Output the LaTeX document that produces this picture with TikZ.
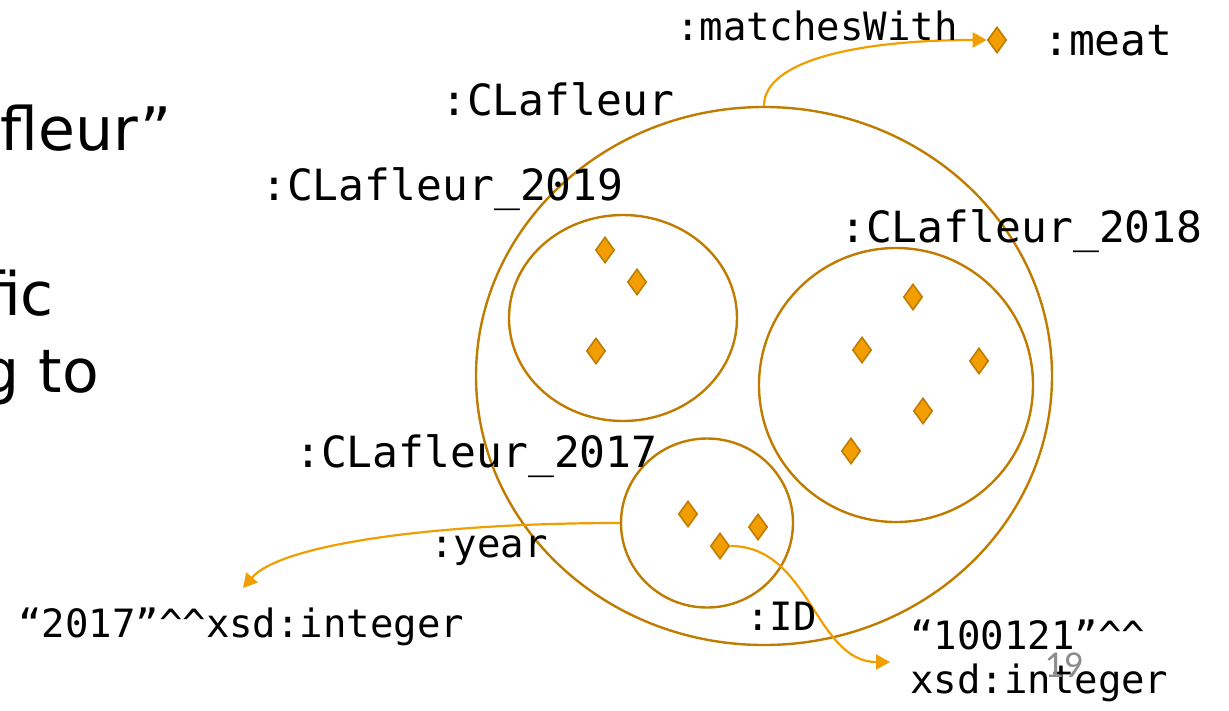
\documentclass[tikz,border=0pt]{standalone}
\usepackage{fontspec}
\setmainfont{DejaVu Sans}
\newfontfamily\codefont{DejaVu Sans Mono}
\newfontfamily\numfont{Carlito}
\usetikzlibrary{arrows.meta, shapes.geometric}
\definecolor{rdfRing}{RGB}{191,124,0}
\definecolor{rdfFill}{RGB}{242,157,0}
\definecolor{rdfEdge}{RGB}{240,158,0}
\definecolor{pageNum}{RGB}{140,140,140}

\begin{document}
\begin{tikzpicture}[x=1pt, y=-1pt,
    ring/.style={ellipse, draw=rdfRing, line width=2.4pt, inner sep=0pt},
    res/.style={diamond, draw=rdfRing, fill=rdfFill, line width=1.6pt,
      minimum width=19pt, minimum height=26pt, inner sep=0pt},
    lbl/.style={anchor=base west, inner sep=0pt, font=\codefont\fontsize{43}{48}\selectfont},
    lit/.style={lbl, font=\codefont\fontsize{39}{46}\selectfont},
    rel/.style={draw=rdfEdge, line width=2.2pt, -{Triangle[length=14pt,width=15pt]}},
    body/.style={anchor=base east, inner sep=0pt, font=\fontsize{60}{70}\selectfont}
  ]
    \useasboundingbox (0,0) rectangle (1229,710);
    % slide text cut off at the left edge
    \node[body] (t1) at (172,150) {fleur”};
    \node[body] (t2) at (54,315) {fic};
    \node[body] (t3) at (99,392) {g to};
    % graphs as rings
    \node[ring, minimum width=576pt, minimum height=538pt] (gAll) at (764,376) {};
    \node[ring, minimum width=228pt, minimum height=206pt] (g19) at (623,318) {};
    \node[ring, minimum width=274pt, minimum height=274pt] (g18) at (896,385) {};
    \node[ring, minimum width=172pt, minimum height=169pt] (g17) at (707,523) {};
    \node[lbl] (lAll) at (441,115) {:CLafleur};
    \node[lbl] (l19) at (261,200) {:CLafleur\_2019};
    \node[lbl] (l18) at (840,242) {:CLafleur\_2018};
    \node[lbl] (l17) at (295,467) {:CLafleur\_2017};
    % resources
    \node[res] (a1) at (605,250) {};
    \node[res] (a2) at (637,282) {};
    \node[res] (a3) at (596,351) {};
    \node[res] (b1) at (913,297) {};
    \node[res] (b2) at (862,350) {};
    \node[res] (b3) at (979,361) {};
    \node[res] (b4) at (923,411) {};
    \node[res] (b5) at (851,451) {};
    \node[res] (c1) at (688,514) {};
    \node[res] (c2) at (758,527) {};
    \node[res] (c3) at (720,546) {};
    \node[res] (meat) at (997,40) {};
    \node[lbl] (lMeat) at (1043,55) {:meat};
    % properties
    \coordinate (yearEnd) at (243,588);
    \coordinate (idEnd) at (890,662);
    \draw[rel] (gAll.north) .. controls (764,60) and (860,40) .. (meat.west);
    \draw[rel] (g17.west) .. controls (430,523) and (280,545) .. (yearEnd);
    \draw[rel] (c3.east) .. controls (810,546) and (815,662) .. (idEnd);
    \node[lit, anchor=base east] (pMatch) at (958,40) {:matchesWith};
    \node[lit] (pYear) at (430,557) {:year};
    \node[lit] (pId) at (746,630) {:ID};
    \node[lit] (v17) at (18,637) {“2017”\^{}\^{}xsd:integer};
    \node[lit, align=left, anchor=north west] (vId) at (910,620)
      {“100121”\^{}\^{}\\[-2pt]xsd:integer};
    \node[anchor=base east, inner sep=0pt, text=pageNum, font=\numfont\fontsize{38}{44}\selectfont] (pg) at (1083,677) {19};
  \end{tikzpicture}
\end{document}
